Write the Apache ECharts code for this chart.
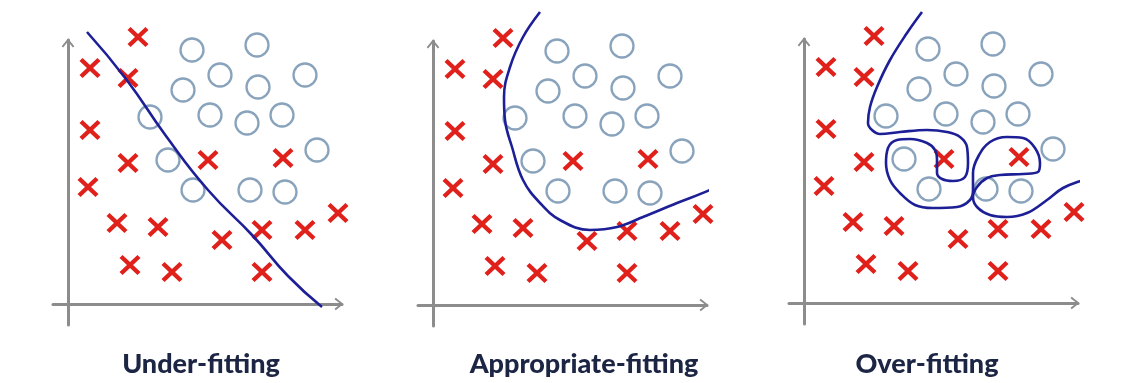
<!DOCTYPE html>
<html><head><meta charset="utf-8">
<script src="https://cdn.jsdelivr.net/npm/echarts@6/dist/echarts.min.js"></script>
<style>html,body{margin:0;padding:0;background:#fff}#c{width:1136px;height:383px}</style>
</head><body><div id="c"></div>
<script>
// Panel titles
const panelTitles = ['Under-fitting', 'Appropriate-fitting', 'Over-fitting'];

// Class "x" samples (red crosses), shared by all three panels
const crossPoints = [
  [70,267],[22,236],[60,226],[22,174],[60,141],[20,117],[140,144],[215,146],
  [49,81],[90,77],[154,64],[194,74],[237,74],[270,91],[62,39],[104,32],[194,32]
];
// Class "o" samples (blue circles)
const circlePoints = [
  [124,254],[189,259],[152,229],[190,217],[237,229],[115,214],[82,187],[142,189],
  [179,181],[214,189],[100,144],[249,154],[125,114],[182,114],[217,112]
];

// Decision boundaries
const underBoundary = [
  [19,272],[58,225],[98,168],[140,114],[185,68],[220,28],[254,-3]
];
const appropriateBoundary = [
  [107,293],[90,268],[77,238],[71,208],[72,185],[79,158],[90,125],[107,102],
  [127,85],[157,75],[184,78],[210,88],[244,102],[277,115],[320,135]
];
const overBoundary = [
  [118,291],[103,270],[86,243],[73,216],[66,196],[64,180],[68,173],[76,169],
  [96,171],[123,173],[143,171],[156,166],[163,156],[164,140],[161,126],[149,122],
  [138,124],[133,130],[133,143],[131,153],[123,160],[106,164],[93,163],[84,155],
  [82,140],[86,123],[96,110],[111,98],[129,95],[153,96],[166,103],[169,113],
  [169,130],[174,146],[186,161],[203,166],[219,165],[231,155],[236,140],[234,131],
  [219,129],[196,128],[183,125],[173,116],[169,106],[173,96],[186,88],[203,86],
  [223,90],[243,103],[259,115],[279,123],[296,128],[309,138],[316,145]
];
const boundaries = [underBoundary, appropriateBoundary, overBoundary];

// Layout (pixel origins of each panel's axes)
const origins = [[68,304],[433,305],[804,303]];
const titleCenters = [201, 584, 927];
const X_MIN = -15, X_MAX = 274, Y_MIN = -21, Y_MAX = 264;

const chart = echarts.init(document.getElementById('c'), null, {renderer: 'canvas'});

const crossPath = 'path://M0,2.9 L2.9,0 L10,7.1 L17.1,0 L20,2.9 L12.9,10 L20,17.1 L17.1,20 L10,12.9 L2.9,20 L0,17.1 L7.1,10 Z';
const chevron = 'path://M0,8.6 L7,0 L14,8.6 L12.4,10 L7,3.2 L1.6,10 Z';

const axisLine = {
  onZero: true,
  symbol: ['none', chevron],
  symbolSize: [14, 9],
  symbolOffset: [0, -3],
  lineStyle: {color: '#8c8c8c', width: 3}
};

const grids = [], xAxes = [], yAxes = [], series = [], graphics = [];
origins.forEach((o, i) => {
  grids.push({
    left: o[0] + X_MIN, top: o[1] - Y_MAX,
    width: X_MAX - X_MIN, height: Y_MAX - Y_MIN,
    containLabel: false
  });
  xAxes.push({type: 'value', gridIndex: i, min: X_MIN, max: X_MAX,
    axisLine: axisLine, axisTick: {show: false}, axisLabel: {show: false}, splitLine: {show: false}});
  yAxes.push({type: 'value', gridIndex: i, min: Y_MIN, max: Y_MAX,
    axisLine: axisLine, axisTick: {show: false}, axisLabel: {show: false}, splitLine: {show: false}});
  series.push({
    type: 'scatter', xAxisIndex: i, yAxisIndex: i, clip: false, silent: true,
    data: circlePoints, symbol: 'circle', symbolSize: 23, z: 2,
    itemStyle: {color: 'rgba(255,255,255,0)', borderColor: '#6b8cab', borderWidth: 2.3}
  });
  series.push({
    type: 'scatter', xAxisIndex: i, yAxisIndex: i, clip: false, silent: true,
    data: crossPoints, symbol: crossPath, symbolSize: [21, 20], z: 2,
    itemStyle: {color: '#e0201b', opacity: 1}
  });
  series.push({
    type: 'line', xAxisIndex: i, yAxisIndex: i, clip: false, silent: true,
    data: boundaries[i], showSymbol: false, smooth: i === 0 ? 0.5 : 0.4, z: 3,
    lineStyle: {color: '#1d1f97', width: 2.6}
  });
  graphics.push({
    type: 'text', x: titleCenters[i], y: 364, silent: true,
    style: {text: panelTitles[i], font: '900 27px Lato', fill: '#1c2544',
      textAlign: 'center', textVerticalAlign: 'middle'}
  });
});

chart.setOption({
  animation: false,
  backgroundColor: '#ffffff',
  grid: grids, xAxis: xAxes, yAxis: yAxes, series: series,
  graphic: graphics
});
</script>
</body></html>
